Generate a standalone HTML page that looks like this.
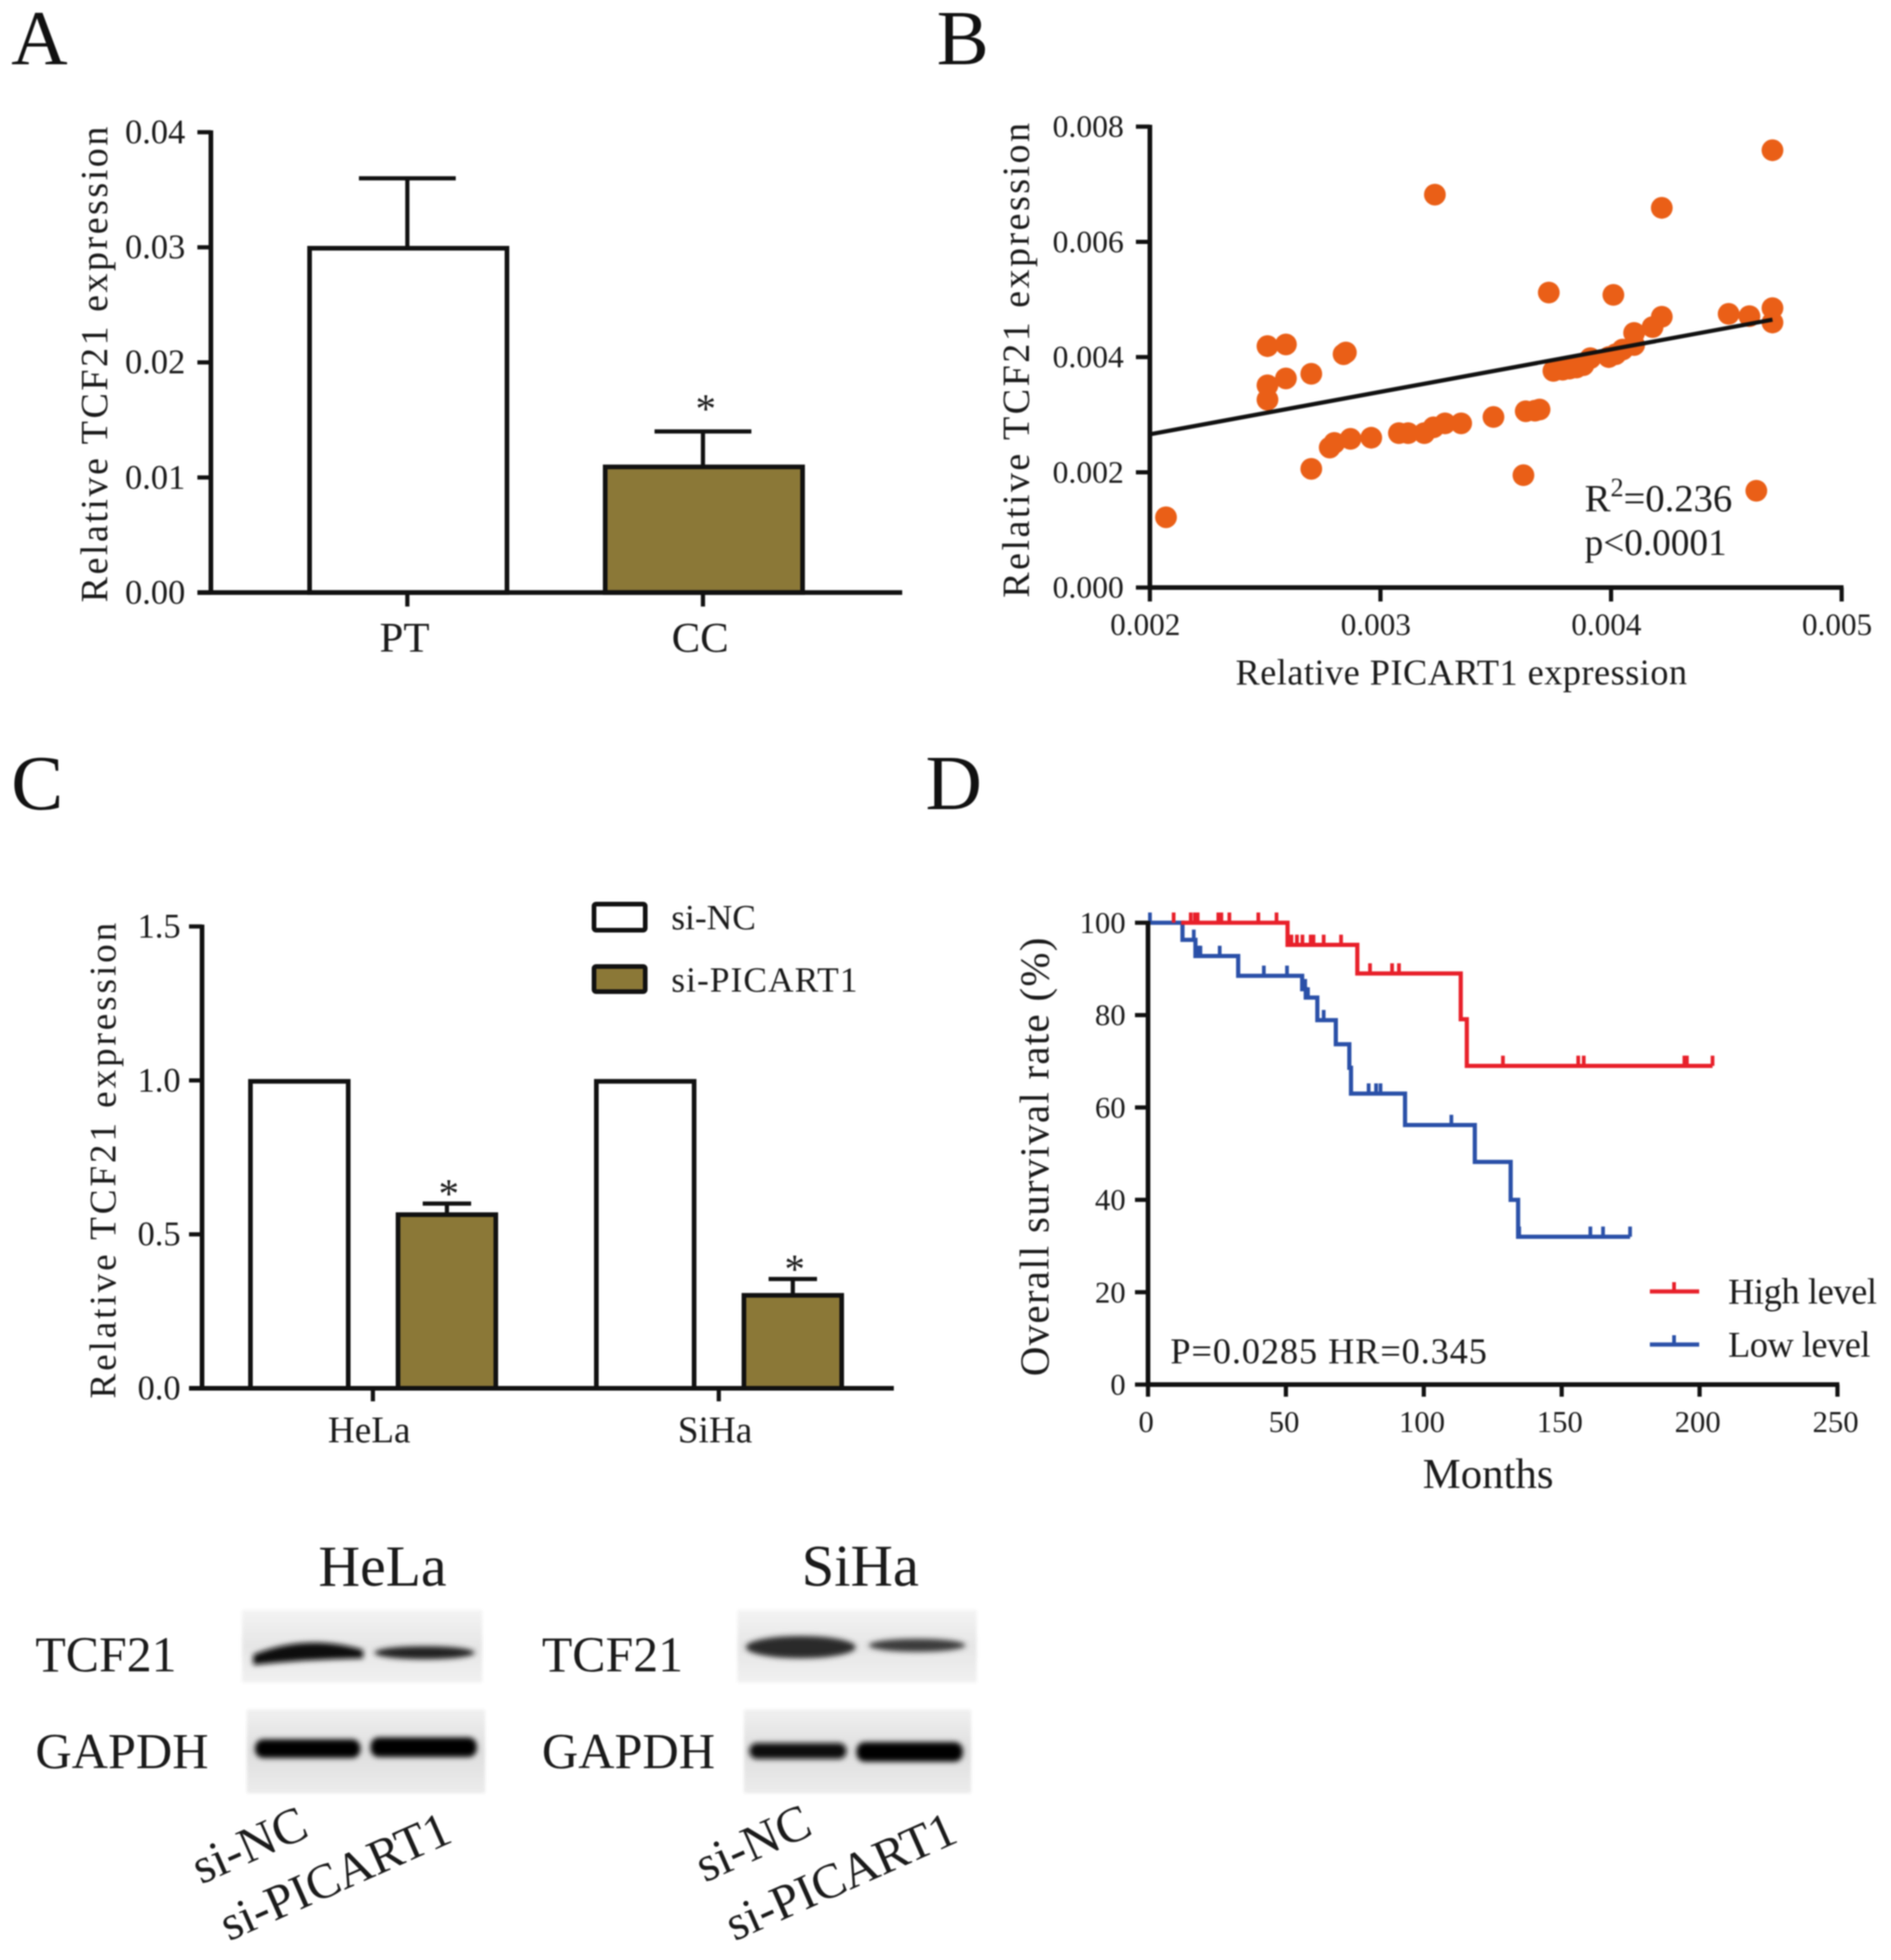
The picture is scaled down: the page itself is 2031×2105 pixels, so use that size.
<!DOCTYPE html>
<html lang="en">
<head>
<meta charset="utf-8">
<title>TCF21 and PICART1 expression figure</title>
<style>
  html, body { margin: 0; padding: 0; background: #fff; }
  svg { display: block; filter: blur(0.7px); }
  text { font-family: "Liberation Serif", "DejaVu Serif", serif; fill: #1a1a1a; }
  .panel-letter { font-size: 84px; fill: #111; }
</style>
</head>
<body>
<svg id="figure" xmlns="http://www.w3.org/2000/svg" width="2031" height="2105" viewBox="0 0 2031 2105">
  <defs>
    <filter id="soft" x="-10%" y="-40%" width="120%" height="180%"><feGaussianBlur stdDeviation="3"/></filter>
    <filter id="soft2" x="-10%" y="-10%" width="120%" height="120%"><feGaussianBlur stdDeviation="1.5"/></filter>
    <linearGradient id="blot-bg" x1="0" y1="0" x2="0" y2="1">
      <stop offset="0" stop-color="#f0f0f0"/><stop offset="0.5" stop-color="#dedede"/><stop offset="1" stop-color="#ececec"/>
    </linearGradient>
  </defs>

  <rect width="2031" height="2105" fill="#fff"/>

  <text class="panel-letter" x="12" y="69">A</text>
  <text class="panel-letter" x="1006" y="69">B</text>
  <text class="panel-letter" x="12" y="869">C</text>
  <text class="panel-letter" x="994" y="869">D</text>

  <g id="panel-a">
    <text transform="translate(115 647) rotate(-90)" font-size="41" textLength="511">Relative TCF21 expression</text>
  </g>

  <g id="panel-b">
    <text transform="translate(1105 642) rotate(-90)" font-size="41" textLength="510">Relative TCF21 expression</text>
    <text x="1327" y="735" font-size="39" textLength="485">Relative PICART1 expression</text>
    <text x="1702" y="549" font-size="41.5">R<tspan dy="-16" font-size="28">2</tspan><tspan dy="16">=0.236</tspan></text>
    <text x="1702" y="596" font-size="40">p&lt;0.0001</text>
  </g>

  <g id="panel-c">
    <text transform="translate(124 1502) rotate(-90)" font-size="40" textLength="511">Relative TCF21 expression</text>
    <rect x="638" y="971" width="55" height="28" rx="2" fill="#fff" stroke="#111" stroke-width="5"/>
    <text x="721" y="998" font-size="38">si-NC</text>
    <rect x="638" y="1038" width="55" height="27" rx="2" fill="#8b7837" stroke="#111" stroke-width="5"/>
    <text x="721" y="1065" font-size="38" textLength="200">si-PICART1</text>
  </g>

  <g id="panel-d">
    <text transform="translate(1126 1478) rotate(-90)" font-size="44" textLength="471">Overall survival rate (%)</text>
    <text x="1528" y="1598" font-size="46">Months</text>
    <text x="1257" y="1464" font-size="39" textLength="340">P=0.0285 HR=0.345</text>
    <line x1="1772" y1="1387" x2="1825" y2="1387" stroke="#e8202a" stroke-width="4.5"/>
    <line x1="1798" y1="1387" x2="1798" y2="1377" stroke="#e8202a" stroke-width="4"/>
    <text x="1856" y="1400" font-size="39" textLength="160">High level</text>
    <line x1="1772" y1="1444" x2="1825" y2="1444" stroke="#2a50a8" stroke-width="4.5"/>
    <line x1="1798" y1="1444" x2="1798" y2="1434" stroke="#2a50a8" stroke-width="4"/>
    <text x="1856" y="1457" font-size="39" textLength="153">Low level</text>
  </g>

  <g id="western-blots">
    <text x="342" y="1703" font-size="62">HeLa</text>
    <text x="861" y="1703" font-size="63">SiHa</text>

    <text x="38" y="1795" font-size="53.5">TCF21</text>
    <text x="38" y="1899" font-size="54">GAPDH</text>
    <text x="582" y="1795" font-size="53.5">TCF21</text>
    <text x="582" y="1899" font-size="54">GAPDH</text>

    <g>
      <rect x="260" y="1729" width="258" height="78" fill="url(#blot-bg)" filter="url(#soft2)" opacity="0.75"/>
      <path d="M272 1777 Q330 1754 390 1772 L390 1781 Q330 1782 272 1788 Z" fill="#0c0c0c" filter="url(#soft)"/>
      <ellipse cx="456" cy="1775" rx="54" ry="7" fill="#222" filter="url(#soft)"/>
    </g>
    <g>
      <rect x="265" y="1836" width="256" height="90" fill="url(#blot-bg)" filter="url(#soft2)"/>
      <rect x="274" y="1868" width="113" height="20" rx="9" fill="#050505" filter="url(#soft)"/>
      <rect x="398" y="1866" width="114" height="21" rx="9" fill="#050505" filter="url(#soft)"/>
    </g>
    <g>
      <rect x="792" y="1729" width="257" height="78" fill="url(#blot-bg)" filter="url(#soft2)" opacity="0.75"/>
      <ellipse cx="860" cy="1769" rx="59" ry="12" fill="#2a2a2a" filter="url(#soft)"/>
      <ellipse cx="985" cy="1767" rx="52" ry="7" fill="#3a3a3a" filter="url(#soft)"/>
    </g>
    <g>
      <rect x="799" y="1836" width="244" height="90" fill="url(#blot-bg)" filter="url(#soft2)"/>
      <rect x="805" y="1872" width="104" height="17" rx="8" fill="#080808" filter="url(#soft)"/>
      <rect x="920" y="1871" width="114" height="21" rx="9" fill="#050505" filter="url(#soft)"/>
    </g>

    <text transform="translate(216 2024) rotate(-24)" font-size="54">si-NC</text>
    <text transform="translate(246 2085) rotate(-24)" font-size="53">si-PICART1</text>
    <text transform="translate(757 2022) rotate(-24)" font-size="54">si-NC</text>
    <text transform="translate(789 2085) rotate(-24)" font-size="53">si-PICART1</text>
  </g>
</svg>

<script>
// Panel A data
const aCategories = ['PT', 'CC'];
const aMeans = [0.030, 0.011];
const aErrors = [0.006, 0.003];
const aStars = ['', '*'];
const aTicks = [0, 0.01, 0.02, 0.03, 0.04];
const aTickLabels = ['0.00', '0.01', '0.02', '0.03', '0.04'];

// Panel B data
const bX = [0.00207,0.003236,0.0047,0.00422,0.00373,0.00401,0.00451,0.0046,0.0047,0.0047,0.00422,0.00418,0.0041,
  0.00251,0.00259,0.00284,0.00285,0.0027,0.00259,0.00251,0.00251,0.0027,0.00362,0.00463,
  0.00278,0.0028,0.00287,0.00296,0.00308,0.00312,0.00319,0.00323,0.00328,0.00335,0.00349,0.00363,0.00367,0.00369,
  0.00375,0.00379,0.00382,0.00385,0.00388,0.00391,0.00399,0.00402,0.00405,0.0041];
const bY = [0.00122,0.00682,0.00759,0.00659,0.00512,0.00508,0.00475,0.00471,0.00485,0.0046,0.0047,0.00452,0.00442,
  0.00419,0.00422,0.00405,0.00408,0.00371,0.00363,0.00351,0.00326,0.00206,0.00195,0.00168,
  0.00243,0.00251,0.00258,0.0026,0.00268,0.00268,0.00268,0.00278,0.00285,0.00285,0.00296,0.00306,0.00307,0.00309,
  0.00376,0.00378,0.0038,0.00382,0.00386,0.00398,0.004,0.00405,0.00413,0.00421];
const bFitX = [0.002, 0.0047];
const bFitY = [0.00266, 0.00465];
const bXTicks = [0.002, 0.003, 0.004, 0.005];
const bXTickLabels = ['0.002', '0.003', '0.004', '0.005'];
const bYTicks = [0, 0.002, 0.004, 0.006, 0.008];
const bYTickLabels = ['0.000', '0.002', '0.004', '0.006', '0.008'];

// Panel C data
const cGroups = ['HeLa', 'SiHa'];
const cNC = [1.0, 1.0];
const cSi = [0.567, 0.305];
const cSiErrors = [0.033, 0.05];
const cTicks = [0, 0.5, 1.0, 1.5];
const cTickLabels = ['0.0', '0.5', '1.0', '1.5'];

// Panel D data
const dHighTimes = [0, 50.6, 75.9, 113.4, 115.6, 204.7];
const dHighSurvival = [100, 95.2, 89, 79.1, 69, 69];
const dHighCensored = [9.3, 15.5, 17, 18, 25.5, 26.6, 29.5, 40, 46.6, 52, 54, 56, 59, 60, 63.7, 70, 80.5, 88.5, 91, 128.7, 156, 158, 194.5, 195.4, 204.7];
const dLowTimes = [0, 12.5, 17.2, 32.7, 55.9, 57.2, 61.4, 68.1, 73, 73.6, 93.2, 118.5, 131.5, 134.2, 174.8];
const dLowSurvival = [100, 96.3, 92.8, 88.5, 85.6, 83.8, 78.9, 73.7, 68.6, 63, 56.2, 48.2, 40, 32, 32];
const dLowCensored = [0.7, 16.6, 18.4, 19, 26, 42, 50.4, 57, 58, 63.7, 80, 82.7, 84.3, 110, 134.6, 160.4, 165, 174.8];
const dXTicks = [0, 50, 100, 150, 200, 250];
const dXTickLabels = ['0', '50', '100', '150', '200', '250'];
const dYTicks = [0, 20, 40, 60, 80, 100];
const dYTickLabels = ['0', '20', '40', '60', '80', '100'];

// Axis functions
const yA = v => 636.4 - v / 0.04 * 494.4;
const xA = i => 437.5 + i * 317.5;
const xB = v => 1235 + (v - 0.002) / 0.003 * 743;
const yB = v => 631 - v / 0.008 * 495;
const yC = v => 1491 - v / 1.5 * 496;
const xC = i => 400.5 + i * 371.5;
const xD = v => 1233 + v * 2.962;
const yD = v => 1487 - v * 4.96;

const NS = 'http://www.w3.org/2000/svg';
const INK = '#111';
const OLIVE = '#8b7837';

function make(parent, tag, attrs, content) {
  const node = document.createElementNS(NS, tag);
  for (const k in attrs) node.setAttribute(k, attrs[k]);
  if (content !== undefined) node.textContent = content;
  parent.appendChild(node);
  return node;
}

function drawYAxis(parent, ticks, labels, scale, x, tickLeft, labelRight, fontSize, baselineShift) {
  ticks.forEach(function (t, i) {
    const tick = make(parent, 'line', { x1: tickLeft, x2: x, y1: scale(t), y2: scale(t), stroke: INK, 'stroke-width': 4.5 });
    
    
    const label = make(parent, 'text', { x: labelRight, y: scale(t) + baselineShift, 'text-anchor': 'end', 'font-size': fontSize }, labels[i]);
    
    
  });
  const axis = make(parent, 'line', { x1: x, x2: x, y1: scale(ticks[ticks.length - 1]) - 2, y2: scale(ticks[0]) + 2, stroke: INK, 'stroke-width': 5 });
  
  
}

function drawBar(parent, cx, width, top, bottom, fill) {
  const bar = make(parent, 'rect', { x: cx - width / 2, y: top, width: width, height: bottom - top, fill: fill, stroke: INK, 'stroke-width': 5 });
  
  
}

function drawError(parent, cx, capHalf, from, to) {
  const stem = make(parent, 'line', { x1: cx, x2: cx, y1: from, y2: to, stroke: INK, 'stroke-width': 4.5 });
  
  
  const cap = make(parent, 'line', { x1: cx - capHalf, x2: cx + capHalf, y1: to, y2: to, stroke: INK, 'stroke-width': 4.5 });
  
  
}

function drawStar(parent, cx, baseline, fontSize) {
  const star = make(parent, 'text', { x: cx, y: baseline, 'text-anchor': 'middle', 'font-size': fontSize }, '*');
  
  
}

/* Panel A */
(function () {
  const g = document.getElementById('panel-a');
  aCategories.forEach(function (c, i) {
    drawError(g, xA(i), 52, yA(aMeans[i]), yA(aMeans[i] + aErrors[i]));
    drawBar(g, xA(i) + 1, 212, yA(aMeans[i]) + 1, yA(0), i === 0 ? '#fff' : OLIVE);
    if (aStars[i]) drawStar(g, xA(i) + 3, yA(aMeans[i] + aErrors[i]) - 10, 44);
    const tick = make(g, 'line', { x1: xA(i), x2: xA(i), y1: yA(0), y2: yA(0) + 15, stroke: INK, 'stroke-width': 4.5 });
    
    
    const label = make(g, 'text', { x: xA(i) - 3, y: 700, 'text-anchor': 'middle', 'font-size': 46 }, c);
    
    
  });
  const baseline = make(g, 'line', { x1: 212, x2: 969, y1: yA(0), y2: yA(0), stroke: INK, 'stroke-width': 5 });
  
  
  drawYAxis(g, aTicks, aTickLabels, yA, 226.5, 212, 199, 37, 12);
})();

/* Panel B */
(function () {
  const g = document.getElementById('panel-b');
  bX.forEach(function (x, i) {
    const dot = make(g, 'circle', { cx: xB(x), cy: yB(bY[i]), r: 11.7, fill: '#ea5f17' });
    
    
  });
  const fit = make(g, 'line', { x1: xB(bFitX[0]), y1: yB(bFitY[0]), x2: xB(bFitX[1]), y2: yB(bFitY[1]), stroke: '#111', 'stroke-width': 4.5 });
  
  
  bXTicks.forEach(function (t, i) {
    const tick = make(g, 'line', { x1: xB(t), x2: xB(t), y1: yB(0), y2: yB(0) + 15, stroke: INK, 'stroke-width': 4.5 });
    
    
    const label = make(g, 'text', { x: xB(t) - 5, y: 682, 'text-anchor': 'middle', 'font-size': 33.5 }, bXTickLabels[i]);
    
    
  });
  const baseline = make(g, 'line', { x1: xB(0.002) - 2, x2: xB(0.005) + 2, y1: yB(0), y2: yB(0), stroke: INK, 'stroke-width': 5 });
  
  
  drawYAxis(g, bYTicks, bYTickLabels, yB, 1235, 1220, 1207, 34, 11);
})();

/* Panel C */
(function () {
  const g = document.getElementById('panel-c');
  cGroups.forEach(function (name, i) {
    const cNCx = xC(i) - 79;
    const cSix = xC(i) + 79.5;
    drawBar(g, cNCx, 105, yC(cNC[i]) + 1, yC(0), '#fff');
    drawError(g, cSix, 26, yC(cSi[i]), yC(cSi[i] + cSiErrors[i]));
    drawBar(g, cSix, 105, yC(cSi[i]) + 1, yC(0), OLIVE);
    drawStar(g, cSix + 2, yC(cSi[i] + cSiErrors[i]) + 4, 44);
    const tick = make(g, 'line', { x1: xC(i), x2: xC(i), y1: yC(0), y2: yC(0) + 14, stroke: INK, 'stroke-width': 4.5 });
    
    
    const label = make(g, 'text', { x: xC(i) - 4, y: 1549, 'text-anchor': 'middle', 'font-size': 40 }, name);
    
    
  });
  const baseline = make(g, 'line', { x1: 203, x2: 960, y1: yC(0), y2: yC(0), stroke: INK, 'stroke-width': 5 });
  
  
  drawYAxis(g, cTicks, cTickLabels, yC, 217, 203, 194, 37, 12);
})();

/* Panel D */
(function () {
  const g = document.getElementById('panel-d');
  function stepPath(times, surv) {
    let d = 'M' + xD(times[0]) + ' ' + yD(surv[0]);
    for (let i = 1; i < times.length; i++) {
      d += ' H' + xD(times[i]) + ' V' + yD(surv[i]);
    }
    return d;
  }
  function survivalAt(times, surv, t) {
    let s = surv[0];
    for (let i = 0; i < times.length; i++) {
      if (times[i] <= t) s = surv[i];
    }
    return s;
  }
  const low = make(g, 'path', { d: stepPath(dLowTimes, dLowSurvival), fill: 'none', stroke: '#2a50a8', 'stroke-width': 4.5 });
  
  
  dLowCensored.forEach(function (t) {
    const s = survivalAt(dLowTimes, dLowSurvival, t);
    const mark = make(g, 'line', { x1: xD(t), x2: xD(t), y1: yD(s), y2: yD(s) - 11, stroke: '#2a50a8', 'stroke-width': 4 });
    
    
  });
  const high = make(g, 'path', { d: stepPath(dHighTimes.map(function (t, i) { return i === 0 ? Math.max(t, 12) : t; }), dHighSurvival), fill: 'none', stroke: '#e8202a', 'stroke-width': 4.5 });
  
  
  dHighCensored.forEach(function (t) {
    const s = survivalAt(dHighTimes, dHighSurvival, t);
    const mark = make(g, 'line', { x1: xD(t), x2: xD(t), y1: yD(s), y2: yD(s) - 11, stroke: '#e8202a', 'stroke-width': 4 });
    
    
  });
  dXTicks.forEach(function (t, i) {
    const tick = make(g, 'line', { x1: xD(t), x2: xD(t), y1: yD(0), y2: yD(0) + 13, stroke: INK, 'stroke-width': 4.5 });
    
    
    const label = make(g, 'text', { x: xD(t) - 2, y: 1538, 'text-anchor': 'middle', 'font-size': 33 }, dXTickLabels[i]);
    
    
  });
  const baseline = make(g, 'line', { x1: xD(0) - 2, x2: xD(250) + 2, y1: yD(0), y2: yD(0), stroke: INK, 'stroke-width': 5 });
  
  
  drawYAxis(g, dYTicks, dYTickLabels, yD, 1233, 1219, 1209, 33, 11);
})();
</script>
</body>
</html>
